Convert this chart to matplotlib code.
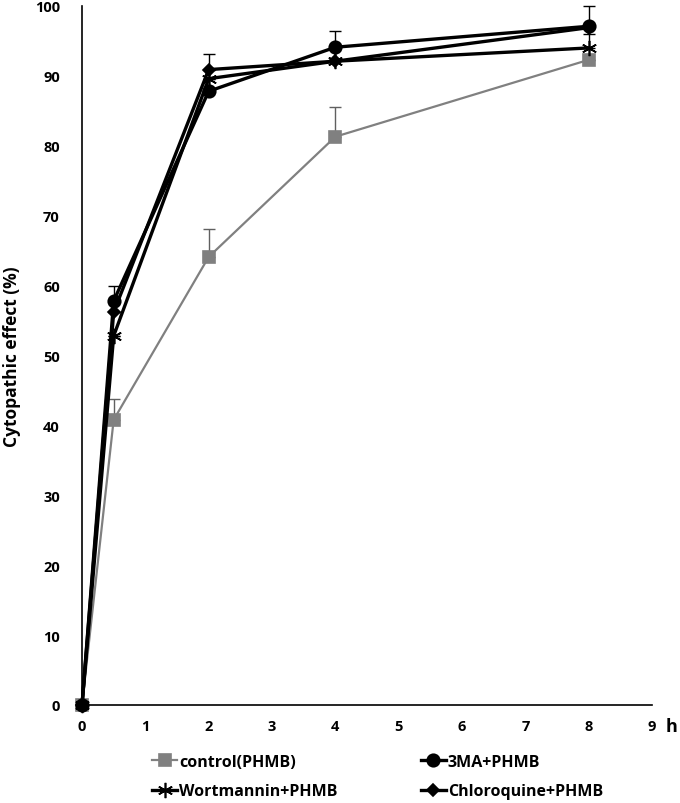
import matplotlib
matplotlib.use("Agg")
import matplotlib.pyplot as plt

# time points (h)
hours = [0, 0.5, 2, 4, 8]

# cytopathic effect (%)
control = [0, 40.8, 64.1, 81.3, 92.3]
control_err = [0, 3.0, 4.0, 4.2, 0]

ma3 = [0, 57.8, 87.8, 94.1, 97.1]
ma3_err = [0, 2.2, 0, 2.3, 2.9]

wortmannin = [0, 52.8, 89.6, 92.1, 94.0]
wortmannin_err = [0, 0, 0, 0, 2.0]

chloroquine = [0, 56.2, 90.9, 92.1, 96.9]
chloroquine_err = [0, 0, 2.2, 0, 0]

x_ticks = list(range(0, 10))
y_ticks = list(range(0, 101, 10))

plt.rcParams["font.family"] = ["Open Sans", "DejaVu Sans"]
plt.rcParams["font.weight"] = "bold"

fig = plt.figure(figsize=(6.8, 8.04), dpi=100)
ax = fig.add_axes([0.1206, 0.1219, 0.8382, 0.8694])

series = [
    ("control(PHMB)", control, control_err, "#808080", "s", 9, 1.6, "#606060"),
    ("3MA+PHMB", ma3, ma3_err, "black", "o", 9, 2.4, "black"),
    ("Wortmannin+PHMB", wortmannin, wortmannin_err, "black", (6, 2, 0), 11, 2.4, "black"),
    ("Chloroquine+PHMB", chloroquine, chloroquine_err, "black", "D", 6, 2.4, "black"),
]

handles = {}
for name, vals, err, col, mk, ms, lw, ecol in series:
    low = [0] * len(err)
    eb = ax.errorbar(hours, vals, yerr=[low, err], fmt="none", ecolor=ecol,
                     elinewidth=1.0, capsize=4, capthick=1.0, zorder=2)
    for art in eb.lines[1] + eb.lines[2]:
        art.set_clip_on(False)
    line, = ax.plot(hours, vals, color=col, marker=mk, markersize=ms, lw=lw,
                    markeredgewidth=1.2, markeredgecolor=col, markerfacecolor=col,
                    label=name, zorder=3, clip_on=False)
    handles[name] = line

ax.set_xlim(0, 9)
ax.set_ylim(0, 100)
ax.set_xticks(x_ticks)
ax.set_yticks(y_ticks)
ax.tick_params(length=0, labelsize=10.5)
ax.tick_params(axis="y", pad=16)
ax.tick_params(axis="x", pad=10)
for lab in ax.get_xticklabels() + ax.get_yticklabels():
    lab.set_fontweight("bold")

ax.spines["top"].set_visible(False)
ax.spines["right"].set_visible(False)
ax.spines["left"].set_linewidth(1.2)
ax.spines["bottom"].set_linewidth(1.2)

ax.set_ylabel("Cytopathic effect (%)", fontsize=12.5, fontweight="bold", labelpad=10)
fig.text(0.988, 0.096, "h", fontsize=13, fontweight="bold", ha="center", va="center")

order = ["control(PHMB)", "Wortmannin+PHMB", "3MA+PHMB", "Chloroquine+PHMB"]
fig.legend([handles[n] for n in order], order, loc="center",
           bbox_to_anchor=(0.555, 0.033), ncol=2, frameon=False,
           prop={"size": 11.5, "weight": "bold"}, handlelength=1.6,
           handletextpad=0.1, columnspacing=5.2, labelspacing=0.85)

fig.savefig("out.png", dpi=100)
